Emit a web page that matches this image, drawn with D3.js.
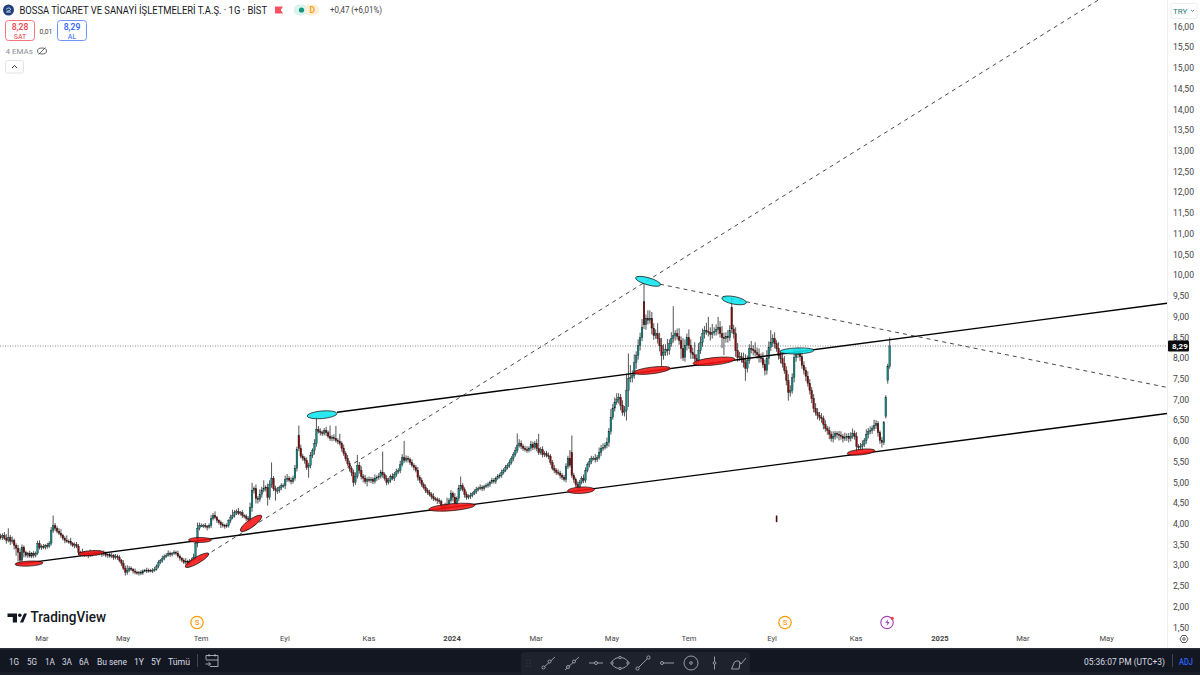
<!DOCTYPE html>
<html><head><meta charset="utf-8">
<script src="https://cdn.jsdelivr.net/npm/d3@7/dist/d3.min.js"></script>
<style>html,body{margin:0;padding:0;background:#fff;overflow:hidden}svg{display:block}text{font-family:Roboto,"Noto Sans",sans-serif}</style>
</head><body><svg id="c" width="1200" height="675"></svg>
<script>
const closes=[
3.67,3.72,3.65,3.60,3.67,3.58,3.60,3.48,3.41,3.31,
3.12,3.43,3.31,3.24,3.29,3.22,3.29,3.24,3.29,3.53,
3.43,3.46,3.43,3.48,3.46,3.53,3.84,3.96,3.89,3.82,
3.77,3.72,3.65,3.60,3.58,3.58,3.53,3.48,3.50,3.46,
3.31,3.29,3.31,3.26,3.29,3.24,3.26,3.29,3.31,3.29,
3.31,3.29,3.26,3.29,3.24,3.26,3.22,3.24,3.19,3.22,
3.19,3.12,3.05,2.93,2.83,2.88,2.93,2.90,2.86,2.83,
2.81,2.83,2.81,2.86,2.88,2.86,2.88,2.86,2.88,2.90,
2.98,3.07,3.12,3.17,3.22,3.24,3.29,3.26,3.29,3.31,
3.29,3.22,3.17,3.12,3.07,3.10,3.05,3.10,3.12,3.19,
3.53,3.89,3.96,3.96,3.96,3.94,3.92,3.96,4.13,4.20,
4.15,4.08,4.03,3.98,3.96,3.94,3.96,4.08,4.15,4.20,
4.27,4.30,4.25,4.27,4.20,4.18,4.13,4.10,4.39,4.81,
4.85,4.61,4.59,4.71,4.81,4.85,4.88,4.64,4.95,5.10,
4.85,4.81,4.81,4.88,4.92,4.92,5.07,5.10,5.05,5.02,
5.10,5.34,5.79,5.82,5.63,5.58,5.53,5.36,5.41,5.65,
5.77,5.94,6.28,6.23,6.20,6.18,6.25,6.20,6.11,6.06,
6.08,6.06,6.01,5.99,5.94,5.82,5.70,5.58,5.46,5.34,
5.24,5.00,5.14,5.41,5.29,5.14,5.10,5.02,5.07,5.05,
5.07,5.02,5.10,5.12,5.14,5.24,5.19,5.10,5.00,5.05,
5.14,5.10,5.19,5.26,5.29,5.43,5.60,5.53,5.58,5.55,
5.48,5.41,5.36,5.29,5.12,5.05,4.95,4.88,4.81,4.76,
4.71,4.66,4.61,4.59,4.56,4.54,4.42,4.37,4.44,4.47,
4.56,4.73,4.64,4.49,4.61,4.85,4.92,4.83,4.71,4.64,
4.66,4.69,4.73,4.78,4.83,4.85,4.88,4.85,4.90,4.92,
4.95,5.00,5.05,5.02,5.10,5.14,5.17,5.24,5.29,5.36,
5.41,5.48,5.58,5.67,5.77,5.89,5.94,5.87,5.82,5.79,
5.77,5.82,5.91,5.84,5.94,5.82,5.72,5.79,5.67,5.70,
5.65,5.63,5.48,5.34,5.29,5.24,5.22,5.17,5.12,5.07,
5.38,5.58,5.41,5.17,5.07,4.95,4.88,5.00,5.10,5.05,
5.29,5.43,5.50,5.58,5.58,5.55,5.60,5.72,5.82,5.84,
5.89,5.96,6.23,6.57,6.79,6.93,7.00,7.05,6.86,6.69,
6.74,7.22,7.51,7.53,7.58,7.89,8.06,8.30,8.49,8.74,
8.80,8.95,8.91,8.96,8.72,8.54,8.59,8.47,8.30,8.06,
8.13,8.21,8.18,8.35,8.47,8.54,8.59,8.52,8.42,8.23,
8.01,8.30,8.49,8.30,8.13,8.08,7.99,7.94,8.18,8.37,
8.59,8.67,8.64,8.62,8.57,8.62,8.64,8.69,8.74,8.59,
8.49,8.47,8.52,8.49,8.67,8.70,8.59,8.18,8.01,8.03,
7.99,7.89,7.75,7.94,8.23,8.21,8.18,8.13,8.08,8.01,
7.99,7.84,7.70,7.99,8.25,8.37,8.47,8.35,8.23,8.06,
7.99,7.87,7.70,7.46,7.17,7.22,7.53,8.01,8.08,8.13,
8.03,7.82,7.70,7.56,7.39,7.22,7.03,6.79,6.69,6.62,
6.57,6.54,6.40,6.30,6.25,6.16,6.06,6.11,6.18,6.16,
6.13,6.11,6.06,6.08,6.11,6.06,6.11,6.18,6.11,5.87,
5.84,5.87,5.91,6.01,6.16,6.23,6.25,6.30,6.37,6.42,
6.20,6.01,5.96,6.44,7.05,7.80,8.29];
const opens=[
3.70,3.67,3.72,3.65,3.60,3.67,3.58,3.60,3.48,3.41,
3.31,3.12,3.43,3.31,3.24,3.29,3.22,3.29,3.24,3.29,
3.53,3.43,3.46,3.43,3.48,3.46,3.53,3.84,3.96,3.89,
3.82,3.77,3.72,3.65,3.60,3.58,3.58,3.53,3.48,3.50,
3.46,3.31,3.29,3.31,3.26,3.29,3.24,3.26,3.29,3.31,
3.29,3.31,3.29,3.26,3.29,3.24,3.26,3.22,3.24,3.19,
3.22,3.19,3.12,3.05,2.93,2.83,2.88,2.93,2.90,2.86,
2.83,2.81,2.83,2.81,2.86,2.88,2.86,2.88,2.86,2.88,
2.90,2.98,3.07,3.12,3.17,3.22,3.24,3.29,3.26,3.29,
3.31,3.29,3.22,3.17,3.12,3.07,3.10,3.05,3.10,3.12,
3.19,3.53,3.89,3.96,3.96,3.96,3.94,3.92,3.96,4.13,
4.20,4.15,4.08,4.03,3.98,3.96,3.94,3.96,4.08,4.15,
4.20,4.27,4.30,4.25,4.27,4.20,4.18,4.13,4.10,4.39,
4.81,4.85,4.61,4.59,4.71,4.81,4.85,4.88,4.64,4.95,
5.10,4.85,4.81,4.81,4.88,4.92,4.92,5.07,5.10,5.05,
5.02,5.10,5.34,6.13,5.82,5.63,5.58,5.53,5.36,5.41,
5.65,5.77,5.94,6.28,6.23,6.20,6.18,6.25,6.20,6.11,
6.06,6.08,6.06,6.01,5.99,5.94,5.82,5.70,5.58,5.46,
5.34,5.24,5.00,5.14,5.41,5.29,5.14,5.10,5.02,5.07,
5.05,5.07,5.02,5.10,5.12,5.14,5.24,5.19,5.10,5.00,
5.05,5.14,5.10,5.19,5.26,5.29,5.43,5.60,5.53,5.58,
5.55,5.48,5.41,5.36,5.29,5.12,5.05,4.95,4.88,4.81,
4.76,4.71,4.66,4.61,4.59,4.56,4.54,4.42,4.37,4.44,
4.47,4.56,4.73,4.64,4.49,4.61,4.85,4.92,4.83,4.71,
4.64,4.66,4.69,4.73,4.78,4.83,4.85,4.88,4.85,4.90,
4.92,4.95,5.00,5.05,5.02,5.10,5.14,5.17,5.24,5.29,
5.36,5.41,5.48,5.58,5.67,5.77,5.89,5.94,5.87,5.82,
5.79,5.77,5.82,5.91,5.84,5.94,5.82,5.72,5.79,5.67,
5.70,5.65,5.63,5.48,5.34,5.29,5.24,5.22,5.17,5.12,
5.07,5.38,5.58,5.72,5.17,5.07,4.95,4.88,5.00,5.10,
5.05,5.29,5.43,5.50,5.58,5.58,5.55,5.60,5.72,5.82,
5.84,5.89,5.96,6.23,6.57,6.79,6.93,7.00,7.05,6.86,
6.69,6.74,7.22,7.51,7.53,7.58,7.89,8.06,8.30,8.49,
9.36,8.80,8.95,8.91,8.96,8.72,8.54,8.59,8.47,8.30,
8.06,8.13,8.21,8.18,8.35,8.47,8.54,8.59,8.52,8.42,
8.23,8.01,8.30,8.49,8.30,8.13,8.08,7.99,7.94,8.18,
8.37,8.59,8.67,8.64,8.62,8.57,8.62,8.64,8.69,8.74,
8.59,8.49,8.47,8.52,8.49,9.22,8.70,8.59,8.18,8.01,
8.03,7.99,7.89,7.75,7.94,8.23,8.21,8.18,8.13,8.08,
8.01,7.99,7.84,7.70,7.99,8.25,8.37,8.47,8.35,8.23,
8.06,7.99,7.87,7.70,7.46,7.17,7.22,7.53,8.01,8.08,
8.13,8.03,7.82,7.70,7.56,7.39,7.22,7.03,6.79,6.69,
6.62,6.57,6.54,6.40,6.30,6.25,6.16,6.06,6.11,6.18,
6.16,6.13,6.11,6.06,6.08,6.11,6.06,6.11,6.18,6.11,
5.87,5.84,5.87,5.91,6.01,6.16,6.23,6.25,6.30,6.37,
6.42,6.20,6.01,5.96,6.59,7.46,7.80];
const upperWicks=[
.06,.05,.08,.10,.22,.06,.09,.04,.05,.08,
.10,.07,.05,.04,.03,.06,.03,.05,.04,.06,
.07,.04,.05,.03,.06,.05,.08,.24,.06,.05,
.07,.10,.04,.05,.12,.04,.08,.03,.05,.06,
.05,.04,.09,.03,.06,.05,.12,.04,.06,.03,
.04,.05,.03,.07,.04,.03,.05,.06,.03,.05,
.04,.05,.03,.07,.06,.12,.05,.04,.03,.06,
.04,.03,.05,.04,.03,.06,.04,.03,.05,.06,
.04,.05,.03,.06,.04,.05,.07,.04,.03,.05,
.04,.06,.04,.03,.05,.07,.03,.05,.06,.09,
.05,.14,.07,.05,.04,.06,.03,.05,.08,.06,
.10,.04,.03,.05,.06,.04,.05,.03,.07,.14,
.06,.05,.08,.04,.06,.03,.05,.06,.12,.18,
.05,.10,.06,.12,.08,.20,.05,.09,.10,.38,
.05,.07,.08,.04,.06,.05,.09,.10,.05,.07,
.06,.08,.07,.24,.09,.06,.05,.07,.06,.08,
.05,.10,.30,.08,.07,.05,.06,.09,.05,.26,
.06,.08,.30,.05,.18,.05,.09,.05,.08,.06,
.05,.07,.10,.25,.08,.10,.06,.08,.05,.07,
.06,.05,.09,.05,.08,.06,.50,.05,.07,.06,
.05,.08,.06,.07,.05,.09,.08,.40,.07,.06,
.05,.07,.05,.06,.08,.05,.06,.05,.07,.05,
.06,.05,.08,.04,.05,.06,.04,.05,.07,.16,
.06,.08,.05,.10,.05,.09,.22,.06,.05,.07,
.05,.06,.04,.05,.06,.05,.07,.05,.04,.06,
.05,.04,.06,.05,.04,.06,.05,.07,.05,.06,
.05,.07,.05,.06,.08,.29,.10,.07,.05,.06,
.08,.05,.09,.07,.06,.10,.35,.06,.08,.05,
.06,.07,.05,.06,.08,.05,.07,.06,.05,.06,
.08,.06,.20,.41,.06,.05,.07,.06,.05,.09,
.07,.05,.08,.06,.05,.10,.06,.12,.08,.10,
.07,.12,.08,.20,.10,.12,.15,.10,.08,.12,
.10,.40,.60,.30,.12,.20,.10,.15,.12,.20,
.44,.10,.20,.19,.15,.12,.10,.25,.14,.18,
.20,.12,.25,.10,.15,.71,.08,.12,.20,.10,
.25,.15,.10,.20,.15,.12,.30,.10,.18,.15,
.12,.10,.18,.35,.12,.20,.10,.12,.25,.15,
.18,.12,.10,.15,.12,.22,.10,.15,.18,.12,
.10,.14,.20,.12,.10,.18,.10,.20,.12,.15,
.10,.15,.12,.20,.15,.30,.10,.15,.08,.15,
.12,.10,.18,.10,.15,.12,.10,.20,.14,.12,
.10,.15,.10,.08,.12,.10,.08,.10,.12,.10,
.08,.10,.07,.10,.06,.09,.07,.12,.06,.05,
.08,.10,.06,.12,.07,.08,.10,.12,.07,.10,
.05,.08,.10,.06,.12,.08,.10,.07,.14,.08,
.06,.05,.08,.04,.05,.06,.21];
const lowerWicks=[
.05,.06,.04,.08,.05,.09,.06,.10,.18,.22,
.06,.05,.12,.05,.06,.04,.05,.06,.05,.04,
.05,.06,.04,.05,.06,.04,.05,.06,.07,.05,
.04,.06,.05,.07,.04,.06,.05,.04,.07,.05,
.06,.05,.04,.06,.05,.07,.04,.05,.04,.06,
.04,.05,.06,.04,.05,.06,.04,.05,.06,.05,
.06,.05,.07,.05,.08,.06,.05,.04,.06,.05,
.04,.06,.05,.04,.03,.05,.04,.03,.05,.04,
.03,.05,.04,.06,.05,.04,.03,.06,.05,.04,
.05,.04,.06,.05,.04,.06,.05,.04,.03,.05,
.06,.10,.05,.04,.06,.05,.08,.04,.06,.05,
.04,.06,.05,.08,.05,.06,.04,.05,.06,.04,
.05,.06,.04,.05,.06,.05,.06,.05,.08,.10,
.08,.12,.10,.06,.08,.05,.07,.20,.06,.08,
.06,.25,.09,.06,.07,.05,.08,.06,.05,.07,
.05,.06,.08,.07,.05,.06,.08,.06,.25,.07,
.06,.10,.08,.05,.07,.06,.05,.08,.05,.06,
.07,.06,.05,.07,.05,.08,.06,.07,.06,.08,
.09,.10,.06,.05,.08,.07,.10,.06,.12,.05,
.07,.06,.05,.07,.06,.05,.08,.06,.07,.05,
.06,.05,.07,.06,.05,.07,.05,.06,.05,.07,
.06,.05,.07,.05,.08,.07,.06,.05,.07,.06,
.05,.07,.06,.05,.08,.06,.09,.06,.05,.07,
.06,.05,.10,.06,.05,.07,.06,.05,.08,.06,
.05,.06,.05,.04,.06,.05,.04,.06,.05,.04,
.05,.06,.04,.05,.06,.04,.05,.06,.05,.04,
.05,.06,.05,.07,.05,.06,.05,.07,.06,.05,
.06,.05,.07,.06,.05,.07,.06,.05,.07,.06,
.05,.07,.06,.05,.07,.06,.05,.08,.06,.05,
.07,.06,.05,.06,.08,.07,.10,.06,.05,.07,
.06,.05,.07,.06,.05,.07,.06,.05,.08,.06,
.05,.07,.10,.08,.06,.08,.06,.10,.12,.08,
.10,.25,.40,.10,.12,.08,.15,.10,.12,.08,
.10,.12,.10,.08,.15,.10,.08,.12,.14,.25,
.10,.08,.12,.10,.08,.10,.12,.08,.10,.25,
.08,.10,.12,.08,.15,.10,.08,.12,.10,.08,
.10,.12,.08,.10,.15,.10,.08,.10,.12,.10,
.25,.40,.10,.12,.08,.10,.12,.15,.10,.08,
.10,.12,.30,.10,.08,.10,.12,.08,.10,.12,
.10,.08,.12,.10,.15,.08,.10,.12,.08,.10,
.12,.10,.08,.12,.20,.10,.08,.12,.10,.08,
.10,.08,.10,.12,.08,.10,.12,.10,.08,.10,
.08,.10,.12,.08,.10,.12,.08,.10,.08,.10,
.12,.08,.10,.06,.08,.10,.07,.06,.08,.15,
.06,.08,.10,.06,.08,.10,.07,.08,.06,.08,
.10,.08,.12,.06,.05,.08,.06];
const priceTicks=[16,15.5,15,14.5,14,13.5,13,12.5,12,11.5,11,10.5,10,9.5,9,8.5,8,7.5,7,6.5,6,5.5,5,4.5,4,3.5,3,2.5,2,1.5];
const monthLabels=["Mar","May","Tem","Eyl","Kas","2024","Mar","May","Tem","Eyl","Kas","2025","Mar","May"];
const monthBars=[21,62.6,102.6,145.6,188.7,231.3,274.4,313.3,352.8,395.4,438.5,481.5,524,567];
const lastPrice=8.29;
// drawings: [bar, price, bar, price]
const solidLines=[[172.6,6.69,598.2,9.32],[7.9,3.02,598.2,6.66]];
const dashedLines=[[101.3,3.12,562.8,16.63],[338.2,9.78,598.2,7.29]];
const redBars=[14.6,46.4,102.3,100.8,128.5,231.5,297.7,334.1,365.9,441.3];
const redPrices=[3.04,3.29,3.61,3.12,4.01,4.40,4.81,7.70,7.92,5.73];
const redShape=[[14,2.5,-3],[13,2.5,-4],[11.5,2.5,0],[13.5,3.2,-30],[13,3.8,-36],[23,3.5,-5],[13.5,3.2,-3],[18.5,3.3,-7],[21,3.7,-6],[14,2.8,-6]];
const cyanBars=[164.9,332.1,376.2,408.5];
const cyanPrices=[6.63,9.85,9.39,8.17];
const cyanShape=[[15,3.8,-5],[13,3.6,16],[12.5,3.8,11],[17,3,-2]];

const svg=d3.select("#c");
const x=d3.scaleLinear().domain([0,closes.length-1]).range([0.5,889.7]);
const y=d3.scaleLinear().domain([1.5,16]).range([627.4,26.4]);
const comma=d3.format(".2f"), fmt=v=>comma(v).replace(".",",");

svg.append("defs").append("clipPath").attr("id","plot").append("rect").attr("width",1167).attr("height",648);
const plot=svg.append("g").attr("clip-path","url(#plot)");

// last price line
plot.append("line").attr("x1",0).attr("x2",1167).attr("y1",y(lastPrice)).attr("y2",y(lastPrice))
 .attr("stroke","#555").attr("stroke-width",.7).attr("stroke-dasharray","1 1.5");

// candles
const idx=d3.range(closes.length);
const cg=plot.append("g");
cg.selectAll("line.w").data(idx).join("line").attr("class","w")
 .attr("x1",i=>x(i)).attr("x2",i=>x(i))
 .attr("y1",i=>y(Math.max(opens[i],closes[i])+upperWicks[i]))
 .attr("y2",i=>y(Math.min(opens[i],closes[i])-lowerWicks[i]))
 .attr("stroke","#555").attr("stroke-width",1);
cg.selectAll("rect").data(idx).join("rect")
 .attr("x",i=>x(i)-.85).attr("width",1.7)
 .attr("y",i=>y(Math.max(opens[i],closes[i])))
 .attr("height",i=>Math.max(1,Math.abs(y(opens[i])-y(closes[i]))))
 .attr("fill",i=>closes[i]>=opens[i]?"#128a85":"#860c0c")
 .attr("stroke","#111").attr("stroke-width",.3);

// stray tick mark
plot.append("line").attr("x1",x(398)).attr("x2",x(398)).attr("y1",y(4.2)).attr("y2",y(4.04)).attr("stroke","#4a1010").attr("stroke-width",1.6);

// trend lines
const lg=plot.append("g").attr("fill","none");
lg.selectAll("line.s").data(solidLines).join("line").attr("class","s")
 .attr("x1",d=>x(d[0])).attr("y1",d=>y(d[1])).attr("x2",d=>x(d[2])).attr("y2",d=>y(d[3]))
 .attr("stroke","#000").attr("stroke-width",1.4);
lg.selectAll("line.d").data(dashedLines).join("line").attr("class","d")
 .attr("x1",d=>x(d[0])).attr("y1",d=>y(d[1])).attr("x2",d=>x(d[2])).attr("y2",d=>y(d[3]))
 .attr("stroke","#333").attr("stroke-width",.9).attr("stroke-dasharray","4 4");

// ellipses
function ell(bars,prices,shape,fill){
 plot.append("g").selectAll("ellipse").data(bars).join("ellipse")
  .attr("rx",(d,i)=>shape[i][0]).attr("ry",(d,i)=>shape[i][1])
  .attr("transform",(d,i)=>`translate(${x(d)},${y(prices[i])}) rotate(${shape[i][2]})`)
  .attr("fill",fill).attr("fill-opacity",.88).attr("stroke","#111").attr("stroke-width",.7);
}
ell(redBars,redPrices,redShape,"#f81212");
ell(cyanBars,cyanPrices,cyanShape,"#0ee6ee");

// price axis
const yAxis=d3.axisRight(y).tickValues(priceTicks).tickFormat(fmt).tickSize(0).tickPadding(6);
const ya=svg.append("g").attr("transform","translate(1167,0)").call(yAxis);
ya.select(".domain").remove();
ya.selectAll("text").attr("font-size",8.6).attr("fill","#444").attr("font-family","Roboto");
svg.append("line").attr("x1",1167.5).attr("x2",1167.5).attr("y1",0).attr("y2",648).attr("stroke","#eef0f3");

// last price tag
svg.append("rect").attr("x",1168).attr("y",y(lastPrice)-5.5).attr("width",21).attr("height",11).attr("rx",1).attr("fill","#0b0b0b");
svg.append("text").attr("x",1172).attr("y",y(lastPrice)+3).attr("font-size",8).attr("font-weight",700).attr("fill","#fff").text(fmt(lastPrice));

// time axis
const xAxis=d3.axisBottom(x).tickValues(monthBars).tickFormat((d,i)=>monthLabels[i]).tickSize(0).tickPadding(0);
const xa=svg.append("g").attr("transform","translate(0,635.5)").call(xAxis);
xa.select(".domain").remove();
xa.selectAll("text").attr("font-size",7.6).attr("fill","#444")
 .attr("font-weight",(d,i)=>/^20/.test(monthLabels[i])?700:400).attr("font-family","Roboto");

// header
const t=(s,px,py,size,fill,o={})=>{const e=svg.append("text").attr("x",px).attr("y",py).attr("font-size",size).attr("fill",fill).text(s);for(const k in o)e.attr(k,o[k]);return e;};
svg.append("circle").attr("cx",8.5).attr("cy",10).attr("r",5.5).attr("fill","#1d3f7c");
svg.append("path").attr("d","M6 9.5c2-2.5 5-1.5 4.5 0s-3 1-4 2.5h4.5").attr("fill","none").attr("stroke","#dfe8f5").attr("stroke-width",.9);
t("BOSSA TİCARET VE SANAYİ İŞLETMELERİ T.A.Ş. · 1G · BİST",19.5,13.5,10,"#131722",{textLength:247.5,lengthAdjust:"spacingAndGlyphs"});
svg.append("path").attr("d","M275 6.5h8l-2.2 3.5 2.2 3.5h-8z").attr("fill","#f7525f");
svg.append("rect").attr("x",294).attr("y",4.5).attr("width",13).attr("height",11).attr("fill","#daf3ee").attr("rx",5);
svg.append("rect").attr("x",305).attr("y",4.5).attr("width",14).attr("height",11).attr("fill","#fdeed8").attr("rx",5);
svg.append("circle").attr("cx",301.5).attr("cy",10).attr("r",2.6).attr("fill","#14957f");
t("D",309.5,13,8.5,"#f5a11d",{"font-weight":700});
t("+0,47 (+6,01%)",330,13.2,8.8,"#444",{textLength:52,lengthAdjust:"spacingAndGlyphs"});
svg.append("rect").attr("x",5.5).attr("y",20.5).attr("width",29).attr("height",20).attr("rx",3).attr("fill","#fff").attr("stroke","#f7737d");
t("8,28",20,30,8.6,"#ef3d4b",{"text-anchor":"middle","font-weight":500});
t("SAT",20,38.5,7,"#ef3d4b",{"text-anchor":"middle"});
t("0,01",46,33.5,6.8,"#444",{"text-anchor":"middle"});
svg.append("rect").attr("x",57.5).attr("y",20.5).attr("width",29).attr("height",20).attr("rx",3).attr("fill","#fff").attr("stroke","#6f93f5");
t("8,29",72,30,8.6,"#2962ff",{"text-anchor":"middle","font-weight":500});
t("AL",72,38.5,7,"#2962ff",{"text-anchor":"middle"});
t("4 EMAs",5.5,54,8,"#8a8e98");
svg.append("ellipse").attr("cx",42).attr("cy",51).attr("rx",4.5).attr("ry",3).attr("fill","none").attr("stroke","#444").attr("stroke-width",.8);
svg.append("line").attr("x1",38.5).attr("y1",54.5).attr("x2",45.5).attr("y2",47.5).attr("stroke","#444").attr("stroke-width",.8);
svg.append("rect").attr("x",5.5).attr("y",60.5).attr("width",18).attr("height",12.5).attr("rx",2).attr("fill","#fff").attr("stroke","#e0e3eb");
svg.append("path").attr("d","M12 68l2.5-2.5 2.5 2.5").attr("fill","none").attr("stroke","#333");
svg.append("rect").attr("x",1171).attr("y",3.5).attr("width",26).attr("height",15).attr("rx",2).attr("fill","#fff").attr("stroke","#eceef2");
t("TRY",1173,13.5,8,"#2a7f78");
svg.append("path").attr("d","M1191 10l1.5 1.3 1.5-1.3").attr("fill","none").attr("stroke","#555").attr("stroke-width",.8);

// watermark logo
svg.append("path").attr("d","M7.5 613.5h9.5v9h-4.2v-5.4h-5.3z M24 613.5h3l-3.8 9h-3.2z").attr("fill","#131722");
svg.append("circle").attr("cx",19.8).attr("cy",615.3).attr("r",1.8).attr("fill","#131722");
t("TradingView",30.5,622,14.2,"#131722",{"font-weight":500,"font-family":"Inter",textLength:75.5,lengthAdjust:"spacingAndGlyphs"});

// event badges
function badge(cx,stroke){
 svg.append("circle").attr("cx",cx).attr("cy",622.5).attr("r",6.2).attr("fill","#fff").attr("stroke",stroke).attr("stroke-width",1.2);
}
badge(197,"#ff9800");badge(785,"#ff9800");badge(887,"#ab47bc");
t("S",197,625.3,7.8,"#ff9800",{"text-anchor":"middle","font-weight":500});
t("S",785,625.3,7.8,"#ff9800",{"text-anchor":"middle","font-weight":500});
svg.append("path").attr("d","M888.2 619l-3 4h2.2l-1 3.2 3.4-4.2h-2.2z").attr("fill","#ab47bc");
svg.append("circle").attr("cx",892.3).attr("cy",618.2).attr("r",1.5).attr("fill","#f23645");

// settings gear
svg.append("circle").attr("cx",1184).attr("cy",639).attr("r",1.3).attr("fill","none").attr("stroke","#333").attr("stroke-width",.8);
svg.append("path").attr("d","M1180 639l2-3.5h4l2 3.5-2 3.5h-4z").attr("fill","none").attr("stroke","#333").attr("stroke-width",.8);

// bottom bar
svg.append("rect").attr("x",0).attr("y",648).attr("width",1200).attr("height",27).attr("fill","#131722");
svg.append("rect").attr("x",0).attr("y",648).attr("width",1200).attr("height",1.5).attr("fill","#2a2e39");
svg.append("rect").attr("x",0).attr("y",672).attr("width",1200).attr("height",3).attr("fill","#1a1e29");
const rangeLabels=["1G","5G","1A","3A","6A","Bu sene","1Y","5Y","Tümü"];
const rangeX=[9,27,45,62,79,97,134,151,168];
const rangeW=[10,10,10,10,10,30,10,10,22];
rangeLabels.forEach((s,i)=>t(s,rangeX[i],664.5,9.8,"#d8dbe3",{textLength:rangeW[i],lengthAdjust:"spacingAndGlyphs"}));
svg.append("line").attr("x1",197.5).attr("x2",197.5).attr("y1",654).attr("y2",667).attr("stroke","#434651");
svg.append("path").attr("d","M206 655.5h12v11h-8 M206 660h12 M206 655.5v4 M209 654v2.5 M215 654v2.5 M205.5 664h5m-2-2l2 2-2 2").attr("fill","none").attr("stroke","#c8ccd6").attr("stroke-width",.8);
t("05:36:07 PM (UTC+3)",1084,664.5,9.6,"#d8dbe3",{textLength:81,lengthAdjust:"spacingAndGlyphs"});
svg.append("line").attr("x1",1172.5).attr("x2",1172.5).attr("y1",654).attr("y2",667).attr("stroke","#434651");
t("ADJ",1179,664.5,9.4,"#2962ff",{"font-weight":500,textLength:14,lengthAdjust:"spacingAndGlyphs"});

// drawing toolbar
svg.append("rect").attr("x",521).attr("y",652).attr("width",229).attr("height",25).attr("rx",4).attr("fill","#1e222d");
const ic="#a6a9b3";
const tb=svg.append("g").attr("fill","none").attr("stroke",ic).attr("stroke-width",.9);
[0,1,2].forEach(r=>[0,1].forEach(c=>tb.append("circle").attr("cx",527+c*3).attr("cy",660+r*3).attr("r",.5).attr("fill","#555").attr("stroke","none")));
tb.append("path").attr("d","M542 669L555 657");tb.append("circle").attr("cx",543.5).attr("cy",667.5).attr("r",1.5).attr("fill","#1e222d");tb.append("circle").attr("cx",549.5).attr("cy",661.5).attr("r",1.5).attr("fill","#1e222d");
tb.append("path").attr("d","M565 670L579 657");tb.append("circle").attr("cx",568).attr("cy",667).attr("r",1.5).attr("fill","#1e222d");tb.append("circle").attr("cx",574).attr("cy",661.5).attr("r",1.5).attr("fill","#1e222d");
tb.append("path").attr("d","M589 663h14");tb.append("circle").attr("cx",596).attr("cy",663).attr("r",1.5).attr("fill","#1e222d");
tb.append("ellipse").attr("cx",620).attr("cy",663).attr("rx",8).attr("ry",5.5);
[[620,657.5],[620,668.5],[612,663],[628,663]].forEach(p=>tb.append("circle").attr("cx",p[0]).attr("cy",p[1]).attr("r",1.2).attr("fill","#1e222d"));
tb.append("path").attr("d","M638 668L648 658");tb.append("circle").attr("cx",637.5).attr("cy",668.5).attr("r",1.6).attr("fill","#1e222d");tb.append("circle").attr("cx",648.5).attr("cy",657.5).attr("r",1.6).attr("fill","#1e222d");
tb.append("path").attr("d","M663 663h11");tb.append("circle").attr("cx",662).attr("cy",663).attr("r",1.5).attr("fill","#1e222d");
tb.append("circle").attr("cx",691).attr("cy",663).attr("r",7);tb.append("circle").attr("cx",691).attr("cy",663).attr("r",1.3);
tb.append("path").attr("d","M714.5 656.5v13");tb.append("circle").attr("cx",714.5).attr("cy",663).attr("r",1.3).attr("fill","#1e222d");
tb.append("path").attr("d","M731.5 669l3-7c2-1.5 5-1.5 5.5.5l-1 6.5z M739 662l2 2 5-6");
</script></body></html>
